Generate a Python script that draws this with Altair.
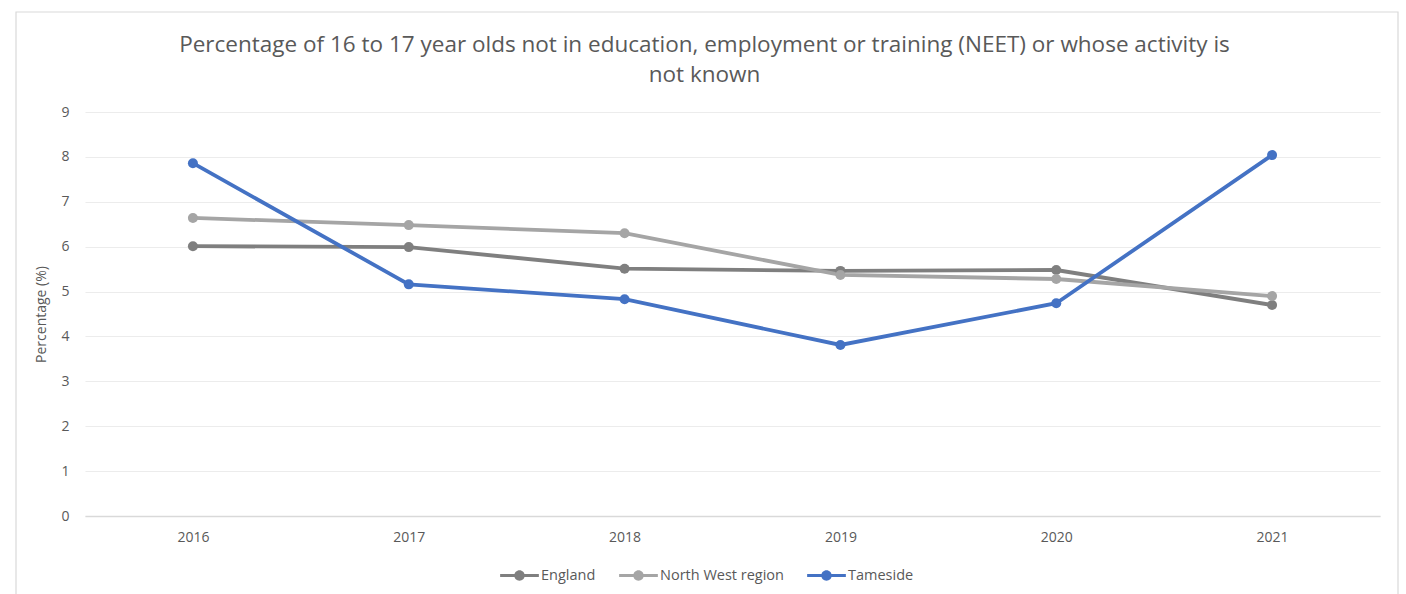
import altair as alt
import pandas as pd

years = ["2016", "2017", "2018", "2019", "2020", "2021"]
england = [6.01, 5.99, 5.51, 5.46, 5.48, 4.70]
north_west = [6.64, 6.48, 6.30, 5.37, 5.28, 4.90]
tameside = [7.86, 5.16, 4.83, 3.81, 4.74, 8.04]
y_ticks = [0, 1, 2, 3, 4, 5, 6, 7, 8, 9]

series_names = ["England", "North West region", "Tameside"]
series_colors = ["#7f7f7f", "#a5a5a5", "#4472c4"]

rows = []
for name, vals in zip(series_names, [england, north_west, tameside]):
    for y, v in zip(years, vals):
        rows.append({"Year": y, "Series": name, "Value": v})
df = pd.DataFrame(rows)

FONT = "Open Sans"
TXT = "#595959"

legend_path = ("M-1,-0.08 L1,-0.08 L1,0.08 L-1,0.08 Z "
               "M0.27,0 A0.27,0.27 0 1,1 -0.27,0 A0.27,0.27 0 1,1 0.27,0 Z")

color = alt.Color(
    "Series:N",
    scale=alt.Scale(domain=series_names, range=series_colors),
    legend=alt.Legend(
        title=None, orient="none", direction="horizontal",
        legendX=415, legendY=444,
        symbolType=legend_path, symbolSize=1500, symbolStrokeWidth=0,
        symbolOpacity=1,
        labelFont=FONT, labelFontSize=14.5, labelColor=TXT,
        columnPadding=23, labelOffset=2,
    ),
)

x = alt.X("Year:O", sort=years,
          scale=alt.Scale(paddingOuter=0.5, paddingInner=0),
          axis=alt.Axis(title=None, labelAngle=0, ticks=False,
                        domainColor="#d9d9d9", domainWidth=1.5,
                        labelPadding=14, labelFont=FONT, labelFontSize=14,
                        labelColor=TXT, grid=False))
y = alt.Y("Value:Q", scale=alt.Scale(domain=[0, 9], nice=False),
          axis=alt.Axis(title="Percentage (%)", values=y_ticks,
                        ticks=False, domain=False, labelOverlap=False,
                        gridColor="#ececec", gridWidth=1.2,
                        labelPadding=16, labelFont=FONT, labelFontSize=14,
                        labelColor=TXT, titleFont=FONT, titleFontSize=14,
                        titleColor=TXT, titleFontWeight="normal",
                        titlePadding=12))

frame = alt.Chart(pd.DataFrame({"a": [0]})).mark_rect(
    fillOpacity=0, stroke="#d9d9d9", strokeWidth=1.2
).encode(x=alt.value(-69), x2=alt.value(1313), y=alt.value(-100), y2=alt.value(500))

lines = alt.Chart(df).mark_line(strokeWidth=3.8).encode(x=x, y=y, color=color)
points = alt.Chart(df).mark_point(filled=True, size=100, opacity=1).encode(
    x=x, y=y, color=color)

chart = alt.layer(frame, lines, points).properties(
    width=1295, height=404,
    title=alt.TitleParams(
        ["Percentage of 16 to 17 year olds not in education, employment or training (NEET) or whose activity is",
         "not known"],
        font=FONT, fontSize=22.5, fontWeight="normal", color=TXT,
        anchor="middle", dx=-28, offset=-75, lineHeight=30, frame="group",
    ),
    autosize=alt.AutoSizeParams(type="none"),
    padding={"left": 85, "top": 112, "right": 26, "bottom": 78},
).configure_view(stroke=None)

chart.save("out.html", embed_options={"renderer": "svg", "actions": False})
